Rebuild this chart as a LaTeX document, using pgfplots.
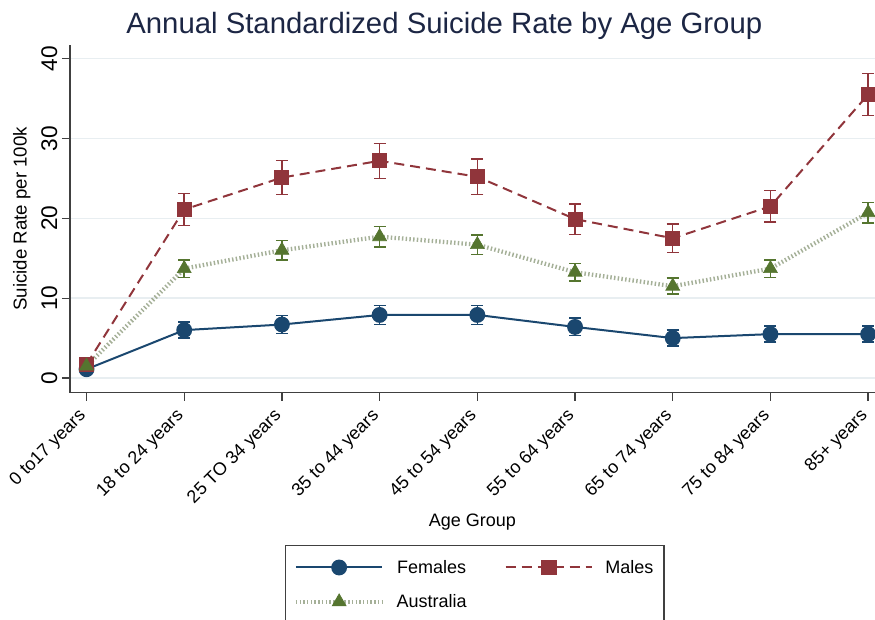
\documentclass[border=0pt]{standalone}
\usepackage{fontspec}
\setmainfont{Liberation Sans}
\usepackage{pgfplots}
\pgfplotsset{compat=1.18}
\definecolor{fem}{RGB}{26,71,111}
\definecolor{mal}{RGB}{144,53,59}
\definecolor{aus}{RGB}{85,117,47}
\definecolor{ausline}{RGB}{165,176,152}
\definecolor{gridc}{RGB}{232,238,241}
\definecolor{axc}{RGB}{64,64,64}
\definecolor{titc}{RGB}{28,38,68}
\begin{document}
\begin{tikzpicture}
\path[use as bounding box] (0,0) rectangle (656.25pt,464.25pt);
\begin{axis}[
  at={(52.5pt,169.7pt)}, anchor=south west,
  scale only axis, width=603.75pt, height=260.8pt,
  xmin=-0.169, xmax=8.07, ymin=-1.84, ymax=41.7,
  clip=false,
  axis x line*=bottom, axis y line*=left,
  axis line style={axc, line width=1.1pt, -},
  xtick={0,...,8},
  xticklabels={0 to17 years, 18 to 24 years, 25 TO 34 years, 35 to 44 years, 45 to 54 years, 55 to 64 years, 65 to 74 years, 75 to 84 years, 85+ years},
  ytick={0,10,20,30,40},
  tick align=outside, major tick length=6pt,
  tick style={axc, line width=1pt},
  ymajorgrids, major grid style={gridc, line width=1.1pt},
  xticklabel shift=7pt,
  xticklabel style={rotate=45, anchor=east, font=\fontsize{13.5}{16}\selectfont},
  yticklabel style={rotate=90, anchor=south, font=\fontsize{17}{20}\selectfont},
  /pgf/number format/assume math mode=true,
  title={Annual Standardized Suicide Rate by Age Group},
  title style={at={(axis description cs:0.465,1.0115)}, anchor=base, font=\fontsize{22}{26}\selectfont, color=titc},
  xlabel={Age Group},
  xlabel style={at={(axis description cs:0.5,-0.371)}, anchor=center, font=\fontsize{13.5}{16}\selectfont},
  ylabel={Suicide Rate per 100k},
  ylabel style={at={(axis description cs:-0.06,0.5)}, anchor=center, font=\fontsize{14}{16}\selectfont},
  legend style={at={(axis description cs:0.2671,-0.4368)}, anchor=north west, draw=axc, line width=1pt,
    font=\fontsize{13.5}{16}\selectfont, legend columns=2,
    /tikz/every even column/.append style={column sep=26.5pt},
    /tikz/every odd column/.append style={column sep=7pt},
    inner xsep=6pt, inner ysep=9pt, row sep=10.5pt},
  legend image code/.code={\draw[mark repeat=2,mark phase=2,#1] plot coordinates {(0pt,0pt) (32.5pt,0pt) (65pt,0pt)};},
  error bars/y dir=both, error bars/y explicit,
]
\addplot[fem, line width=1.5pt, mark=*, mark size=5.2pt, mark options={solid, fill=fem},
  error bars/error bar style={line width=1.1pt, fem, solid},
  error bars/error mark options={rotate=90, mark size=4.5pt, line width=1.1pt, fem}]
coordinates {(0,1.1) +- (0,0.3) (1,6.0) +- (0,1.0) (2,6.7) +- (0,1.1) (3,7.9) +- (0,1.2) (4,7.9) +- (0,1.2) (5,6.4) +- (0,1.1) (6,5.0) +- (0,1.0) (7,5.5) +- (0,1.0) (8,5.5) +- (0,1.0)};
\addlegendentry{Females}
\addplot[mal, line width=1.5pt, dash pattern=on 7.5pt off 4.5pt, mark=square*, mark size=4.9pt, mark options={solid, fill=mal},
  error bars/error bar style={line width=1.1pt, mal, solid},
  error bars/error mark options={rotate=90, mark size=4.5pt, line width=1.1pt, mal}]
coordinates {(0,1.7) +- (0,0.4) (1,21.1) +- (0,2.0) (2,25.1) +- (0,2.15) (3,27.2) +- (0,2.2) (4,25.2) +- (0,2.2) (5,19.9) +- (0,1.9) (6,17.5) +- (0,1.8) (7,21.5) +- (0,1.95) (8,35.5) +- (0,2.6)};
\addlegendentry{Males}
\addplot[ausline, line width=3.2pt, dash pattern=on 1.1pt off 1.7pt, mark=triangle*, mark size=6pt, mark options={solid, aus, fill=aus, line width=0.5pt},
  error bars/error bar style={line width=1.1pt, aus, solid},
  error bars/error mark options={rotate=90, mark size=4.5pt, line width=1.1pt, aus}]
coordinates {(0,1.5) +- (0,0.3) (1,13.7) +- (0,1.1) (2,16.0) +- (0,1.2) (3,17.7) +- (0,1.3) (4,16.7) +- (0,1.2) (5,13.25) +- (0,1.1) (6,11.5) +- (0,1.0) (7,13.7) +- (0,1.1) (8,20.7) +- (0,1.3)};
\addlegendentry{Australia}
\end{axis}
\end{tikzpicture}
\end{document}
